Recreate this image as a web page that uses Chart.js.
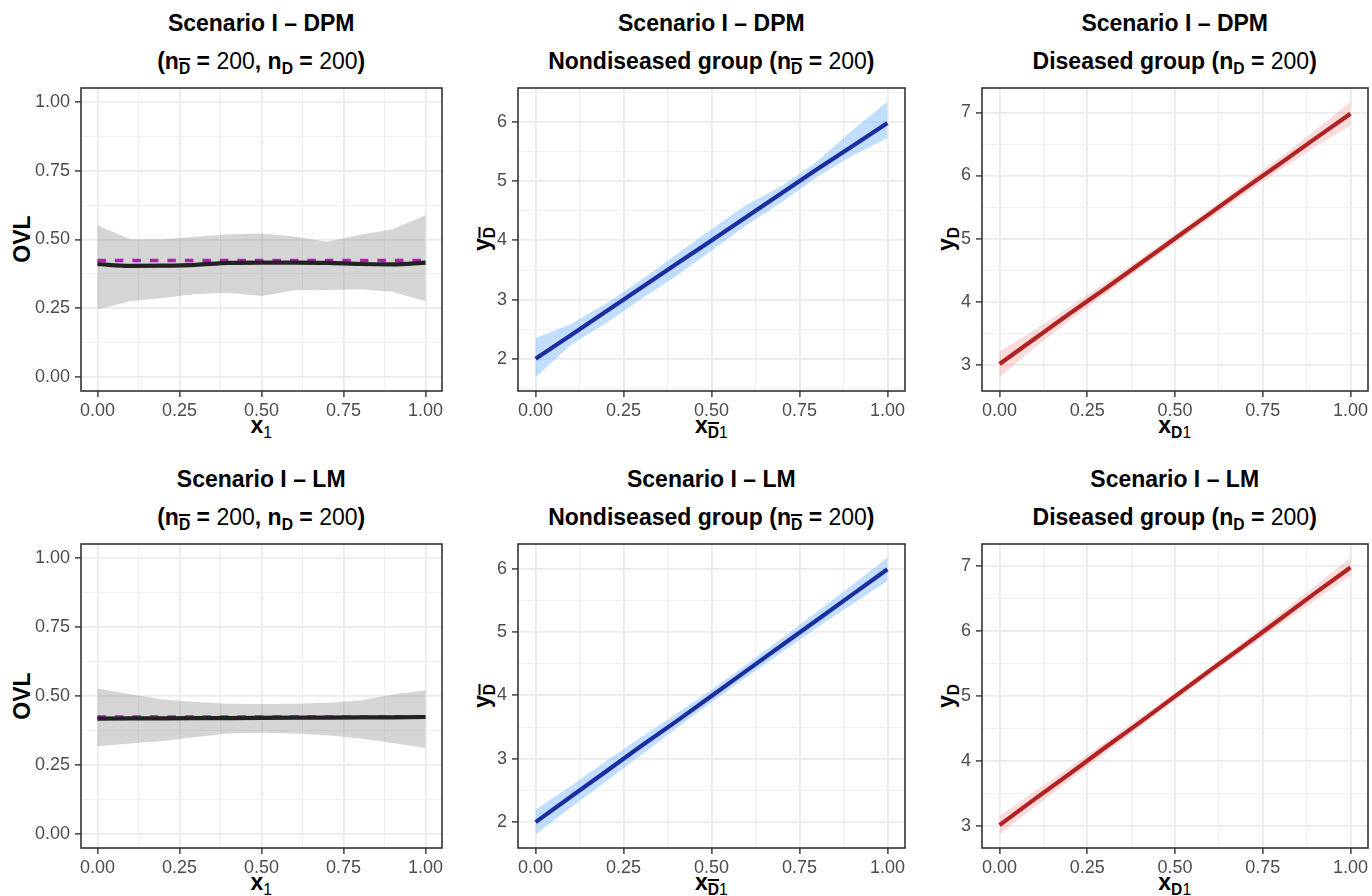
<!DOCTYPE html>
<html>
<head>
<meta charset="utf-8">
<script src="https://cdn.jsdelivr.net/npm/chart.js@4.4.1/dist/chart.umd.min.js"></script>
<style>
  html, body { margin: 0; padding: 0; background: #fff; }
  #fig { position: relative; width: 1372px; height: 896px; overflow: hidden; background: #fff;
         font-family: "Liberation Sans", Arial, Helvetica, sans-serif; }
  #fig canvas { position: absolute; }
  .lab { position: absolute; font-weight: bold; font-size: 23px; line-height: 23px;
         white-space: nowrap; color: #000; }
  .ttl, .xlab { transform: translateX(-50%); }
  .ylab { transform: translate(-50%, -50%) rotate(-90deg); }
  .nb { font-weight: normal; }
  .sb { font-size: 0.68em; position: relative; top: 0.3em; }
  .bar { text-decoration: overline; text-decoration-thickness: 1.5px; }
</style>
</head>
<body>
<div id="fig"></div>
<script>
// ---- data: covariate grid and estimated curves with 95% bands ----
const xGrid = [0, 0.1, 0.2, 0.3, 0.4, 0.5, 0.6, 0.7, 0.8, 0.9, 1];
const trueOvlX = [0, 1];
const trueOvl = [0.424, 0.424];

// Scenario I – DPM
const dpmOvlMean  = [0.411, 0.404, 0.405, 0.408, 0.415, 0.416, 0.416, 0.415, 0.411, 0.410, 0.416];
const dpmOvlLower = [0.246, 0.276, 0.288, 0.302, 0.307, 0.295, 0.316, 0.317, 0.319, 0.310, 0.275];
const dpmOvlUpper = [0.552, 0.501, 0.501, 0.510, 0.519, 0.522, 0.511, 0.492, 0.517, 0.537, 0.588];
const dpmNondMean  = [2.00, 2.40, 2.80, 3.20, 3.60, 4.00, 4.40, 4.80, 5.20, 5.59, 5.98];
const dpmNondLower = [1.69, 2.24, 2.60, 3.01, 3.40, 3.83, 4.26, 4.65, 5.07, 5.43, 5.73];
const dpmNondUpper = [2.35, 2.59, 2.93, 3.33, 3.76, 4.19, 4.60, 4.92, 5.33, 5.86, 6.34];
const dpmDisMean  = [3.01, 3.41, 3.81, 4.20, 4.60, 5.00, 5.40, 5.80, 6.19, 6.59, 6.98];
const dpmDisLower = [2.80, 3.27, 3.70, 4.11, 4.52, 4.93, 5.32, 5.71, 6.09, 6.46, 6.79];
const dpmDisUpper = [3.21, 3.55, 3.92, 4.29, 4.67, 5.07, 5.47, 5.88, 6.29, 6.72, 7.17];

// Scenario I – LM
const lmOvlMean  = [0.418, 0.419, 0.419, 0.420, 0.420, 0.421, 0.422, 0.422, 0.423, 0.423, 0.424];
const lmOvlLower = [0.318, 0.328, 0.337, 0.352, 0.364, 0.367, 0.364, 0.358, 0.346, 0.330, 0.312];
const lmOvlUpper = [0.527, 0.506, 0.487, 0.478, 0.472, 0.471, 0.472, 0.476, 0.484, 0.505, 0.521];
const lmNondMean  = [2.00, 2.40, 2.80, 3.20, 3.59, 3.99, 4.39, 4.79, 5.19, 5.59, 5.99];
const lmNondLower = [1.81, 2.23, 2.64, 3.06, 3.48, 3.89, 4.29, 4.68, 5.07, 5.44, 5.81];
const lmNondUpper = [2.20, 2.57, 2.96, 3.34, 3.71, 4.09, 4.49, 4.90, 5.32, 5.74, 6.17];
const lmDisMean  = [3.02, 3.42, 3.81, 4.21, 4.60, 5.00, 5.40, 5.79, 6.19, 6.59, 6.98];
const lmDisLower = [2.88, 3.30, 3.71, 4.12, 4.53, 4.94, 5.33, 5.72, 6.10, 6.48, 6.86];
const lmDisUpper = [3.16, 3.54, 3.91, 4.29, 4.67, 5.06, 5.46, 5.86, 6.28, 6.70, 7.13];

// ---- tick values ----
const unitTicks  = [0, 0.25, 0.5, 0.75, 1];
const unitMinor  = [0.125, 0.375, 0.625, 0.875];
const nondTicks  = [2, 3, 4, 5, 6];
const nondMinor  = [1.5, 2.5, 3.5, 4.5, 5.5, 6.5];
const disTicks   = [3, 4, 5, 6, 7];
const disMinor   = [2.5, 3.5, 4.5, 5.5, 6.5, 7.5];

// ---- text ----
const ovlSizes  = '(n<span class="sb bar">D</span> = <span class="nb">200</span>, n<span class="sb">D</span> = <span class="nb">200</span>)';
const nondSizes = 'Nondiseased group (n<span class="sb bar">D</span> = <span class="nb">200</span>)';
const disSizes  = 'Diseased group (n<span class="sb">D</span> = <span class="nb">200</span>)';
const ovlYLab  = 'OVL';
const nondYLab = 'y<span class="sb bar">D</span>';
const disYLab  = 'y<span class="sb">D</span>';
const ovlXLab  = 'x<span class="sb nb">1</span>';
const nondXLab = 'x<span class="sb"><span class="bar">D</span><span class="nb">1</span></span>';
const disXLab  = 'x<span class="sb">D<span class="nb">1</span></span>';

// ---- styling ----
const FONT = '"Liberation Sans", Arial, Helvetica, sans-serif';
const Y_AXIS_W = 60, X_AXIS_H = 34, PAD_TOP = 18, PAD_RIGHT = 14;

const fmt2 = v => v.toFixed(2);
const fmt0 = v => String(Math.round(v));

function expandRange(lo, hi) {
  const mn = Math.min(...lo), mx = Math.max(...hi), d = (mx - mn) * 0.05;
  return [mn - d, mx + d];
}

function axis(kind, min, max, majors, minors, fmt) {
  const isMajor = v => majors.includes(v);
  return {
    type: 'linear', min, max,
    afterBuildTicks: s => {
      s.ticks = majors.concat(minors).filter(v => v >= min && v <= max)
        .sort((a, b) => a - b).map(v => ({ value: v }));
    },
    afterFit: s => { if (kind === 'x') s.height = X_AXIS_H; else s.width = Y_AXIS_W; },
    ticks: {
      autoSkip: false, maxRotation: 0, minRotation: 0,
      padding: kind === 'x' ? 3 : 5,
      color: '#4D4D4D', font: { family: FONT, size: 18 },
      callback: v => isMajor(v) ? fmt(v) : ''
    },
    grid: {
      color: c => (c.tick && isMajor(c.tick.value)) ? '#EBEBEB' : '#F0F0F0',
      lineWidth: c => (c.tick && isMajor(c.tick.value)) ? 1.8 : 1,
      tickColor: c => (c.tick && isMajor(c.tick.value)) ? '#333333' : 'rgba(0,0,0,0)',
      tickWidth: 1.4, tickLength: 6, drawTicks: true
    },
    border: { display: false }
  };
}

const pts = (xs, ys) => xs.map((x, i) => ({ x, y: ys[i] }));

function curve(ys, color, width, extra) {
  return Object.assign({ data: pts(xGrid, ys), borderColor: color, borderWidth: width,
    pointRadius: 0, fill: false, tension: 0 }, extra || {});
}
function bandPair(lo, hi, fillColor) {
  return [
    { data: pts(xGrid, hi), borderWidth: 0, borderColor: 'rgba(0,0,0,0)', pointRadius: 0,
      fill: '+1', backgroundColor: fillColor, tension: 0 },
    { data: pts(xGrid, lo), borderWidth: 0, borderColor: 'rgba(0,0,0,0)', pointRadius: 0,
      fill: false, tension: 0 }
  ];
}

const panelBorder = {
  id: 'panelBorder',
  afterDraw(chart) {
    const { ctx, chartArea: a } = chart;
    ctx.save();
    ctx.strokeStyle = '#333333';
    ctx.lineWidth = 1.6;
    ctx.strokeRect(a.left, a.top, a.right - a.left, a.bottom - a.top);
    ctx.restore();
  }
};

const GRAY_BAND = 'rgba(140,140,140,0.37)';
const BLUE_BAND = 'rgba(100,170,255,0.40)';
const PINK_BAND = 'rgba(230,100,100,0.23)';

// plot-area rectangles (left, top, width, height)
const panels = [
  { L: 80.7,  T: 87.7, W: 361, H: 303,
    title: ['Scenario I – DPM', ovlSizes], ylab: ovlYLab, ylabX: 22, xlab: ovlXLab,
    y: [-0.05, 1.05, unitTicks, unitMinor, fmt2],
    sets: [curve(dpmOvlMean, '#222222', 4.2, { cubicInterpolationMode: 'monotone' }),
           { data: pts(trueOvlX, trueOvl), borderColor: '#B41DB8', borderWidth: 3.5,
             borderDash: [8.5, 9], pointRadius: 0, fill: false },
           ...bandPair(dpmOvlLower, dpmOvlUpper, GRAY_BAND)] },
  { L: 517.7, T: 87.7, W: 387.3, H: 303,
    title: ['Scenario I – DPM', nondSizes], ylab: nondYLab, ylabX: 483, xlab: nondXLab,
    y: [...expandRange(dpmNondLower, dpmNondUpper), nondTicks, nondMinor, fmt0],
    sets: [curve(dpmNondMean, '#1B2D9F', 4.2), ...bandPair(dpmNondLower, dpmNondUpper, BLUE_BAND)] },
  { L: 981.7, T: 87.7, W: 386, H: 303,
    title: ['Scenario I – DPM', disSizes], ylab: disYLab, ylabX: 947, xlab: disXLab,
    y: [...expandRange(dpmDisLower, dpmDisUpper), disTicks, disMinor, fmt0],
    sets: [curve(dpmDisMean, '#B22222', 4.2), ...bandPair(dpmDisLower, dpmDisUpper, PINK_BAND)] },
  { L: 80.7,  T: 544, W: 361, H: 303.5,
    title: ['Scenario I – LM', ovlSizes], ylab: ovlYLab, ylabX: 22, xlab: ovlXLab,
    y: [-0.05, 1.05, unitTicks, unitMinor, fmt2],
    sets: [curve(lmOvlMean, '#222222', 4.2),
           { data: pts(trueOvlX, trueOvl), borderColor: '#B41DB8', borderWidth: 3.5,
             borderDash: [8.5, 9], pointRadius: 0, fill: false },
           ...bandPair(lmOvlLower, lmOvlUpper, GRAY_BAND)] },
  { L: 517.7, T: 544, W: 387.3, H: 303.5,
    title: ['Scenario I – LM', nondSizes], ylab: nondYLab, ylabX: 483, xlab: nondXLab,
    y: [...expandRange(lmNondLower, lmNondUpper), nondTicks, nondMinor, fmt0],
    sets: [curve(lmNondMean, '#1B2D9F', 4.2), ...bandPair(lmNondLower, lmNondUpper, BLUE_BAND)] },
  { L: 981.7, T: 544, W: 386, H: 303.5,
    title: ['Scenario I – LM', disSizes], ylab: disYLab, ylabX: 947, xlab: disXLab,
    y: [...expandRange(lmDisLower, lmDisUpper), disTicks, disMinor, fmt0],
    sets: [curve(lmDisMean, '#B22222', 4.2), ...bandPair(lmDisLower, lmDisUpper, PINK_BAND)] }
];

const fig = document.getElementById('fig');
function addLabel(cls, html, left, top) {
  const d = document.createElement('div');
  d.className = 'lab ' + cls;
  d.innerHTML = html;
  d.style.left = left + 'px';
  d.style.top = top + 'px';
  fig.appendChild(d);
}

panels.forEach(p => {
  const cx = p.L + p.W / 2, cy = p.T + p.H / 2;
  addLabel('ttl', p.title[0], cx, p.T - 75.6);
  addLabel('ttl', p.title[1], cx, p.T - 37.7);
  addLabel('ylab', p.ylab, p.ylabX, cy);
  addLabel('xlab', p.xlab, cx, p.T + p.H + 23.4);

  const cv = document.createElement('canvas');
  const w = Math.round(p.W + Y_AXIS_W + PAD_RIGHT), h = Math.round(p.H + PAD_TOP + X_AXIS_H);
  cv.width = w; cv.height = h;
  cv.style.width = w + 'px'; cv.style.height = h + 'px';
  cv.style.left = (p.L - Y_AXIS_W) + 'px';
  cv.style.top = (p.T - PAD_TOP) + 'px';
  fig.appendChild(cv);

  const [ymin, ymax, ymaj, ymin2, yfmt] = p.y;
  new Chart(cv, {
    type: 'line',
    data: { datasets: p.sets },
    options: {
      responsive: false, animation: false, events: [],
      layout: { padding: { left: 0, top: PAD_TOP, right: PAD_RIGHT, bottom: 0 } },
      plugins: { legend: { display: false }, tooltip: { enabled: false } },
      scales: {
        x: axis('x', -0.05, 1.05, unitTicks, unitMinor, fmt2),
        y: axis('y', ymin, ymax, ymaj, ymin2, yfmt)
      }
    },
    plugins: [panelBorder]
  });
});
</script>
</body>
</html>
